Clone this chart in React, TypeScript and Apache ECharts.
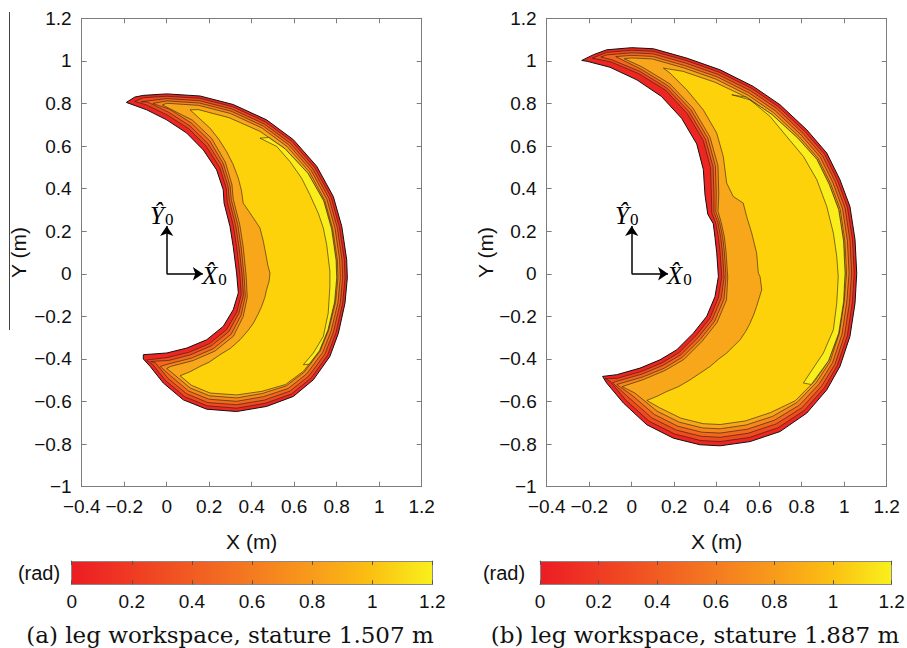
import React, { useEffect, useRef } from 'react';
import * as echarts from 'echarts';

type Pt = [number, number];

// ---------- axes / ticks ----------
const X_RANGE: Pt = [-0.4, 1.2];
const Y_RANGE: Pt = [-1, 1.2];
const TICK_STEP = 0.2;
const CBAR_RANGE: Pt = [0, 1.2];
const CBAR_TICKS = [0, 0.2, 0.4, 0.6, 0.8, 1, 1.2];

// colorbar colormap (red -> yellow)
const CBAR_STOPS = [0, 0.17, 0.33, 0.5, 0.67, 0.83, 1];
const CBAR_COLORS = ['#ec1c24', '#ef3c23', '#f15b22', '#f47b20', '#f89c1b', '#fbc012', '#f9f01c'];

// filled contour level colours (outer boundary -> interior)
const LEVEL_COLORS = ['#ee2622', '#f04a1f', '#f3681d', '#f6881b', '#f8a61a', '#fdd20b', '#f9ed1c'];

// ---------- (a) stature 1.507 m : contour polygons (X, Y in m) ----------
const A_P0: Pt[] = [
  [-0.19, 0.805], [-0.15, 0.83], [-0.11, 0.838], [0.0, 0.845], [0.157, 0.835], [0.313, 0.795],
  [0.47, 0.723], [0.596, 0.63], [0.706, 0.505], [0.784, 0.363], [0.824, 0.222], [0.847, 0.066],
  [0.85, -0.02], [0.839, -0.138], [0.808, -0.279], [0.768, -0.388], [0.69, -0.498], [0.596, -0.576],
  [0.47, -0.623], [0.329, -0.647], [0.188, -0.636], [0.078, -0.592], [-0.016, -0.513], [-0.078, -0.435],
  [-0.11, -0.4], [-0.11, -0.38], [0.0, -0.372], [0.094, -0.349], [0.188, -0.31], [0.266, -0.247],
  [0.313, -0.169], [0.337, -0.09], [0.329, 0.003], [0.313, 0.128], [0.298, 0.222], [0.27, 0.332],
  [0.266, 0.395], [0.235, 0.488], [0.172, 0.582], [0.094, 0.661], [0.0, 0.723], [-0.094, 0.77],
];
const A_P1: Pt[] = [
  [-0.15, 0.81], [-0.109, 0.827], [0.0, 0.834], [0.156, 0.824], [0.31, 0.785], [0.465, 0.713],
  [0.589, 0.622], [0.697, 0.498], [0.774, 0.358], [0.813, 0.219], [0.836, 0.065], [0.839, -0.02],
  [0.828, -0.137], [0.797, -0.275], [0.757, -0.382], [0.68, -0.489], [0.588, -0.564], [0.465, -0.608],
  [0.329, -0.631], [0.191, -0.62], [0.086, -0.578], [-0.005, -0.502], [-0.065, -0.427], [-0.095, -0.405],
  [0.006, -0.393], [0.104, -0.369], [0.201, -0.328], [0.282, -0.262], [0.33, -0.18], [0.351, -0.097],
  [0.344, -0.002], [0.329, 0.127], [0.314, 0.225], [0.285, 0.338], [0.28, 0.403], [0.249, 0.5],
  [0.185, 0.6], [0.104, 0.681], [0.006, 0.744], [-0.092, 0.792],
];
const A_P2: Pt[] = [
  [-0.12, 0.808], [0.0, 0.823], [0.154, 0.813], [0.306, 0.774], [0.459, 0.704], [0.581, 0.614],
  [0.688, 0.492], [0.764, 0.354], [0.803, 0.216], [0.825, 0.065], [0.828, -0.019], [0.817, -0.135],
  [0.785, -0.272], [0.745, -0.376], [0.669, -0.48], [0.58, -0.551], [0.46, -0.593], [0.329, -0.615],
  [0.194, -0.605], [0.094, -0.564], [0.006, -0.491], [-0.052, -0.419], [-0.075, -0.412], [0.01, -0.407],
  [0.11, -0.381], [0.209, -0.339], [0.292, -0.272], [0.339, -0.187], [0.361, -0.102], [0.355, -0.005],
  [0.34, 0.127], [0.325, 0.226], [0.295, 0.343], [0.289, 0.409], [0.258, 0.509], [0.194, 0.612],
  [0.11, 0.694], [0.009, 0.759], [-0.091, 0.807],
];
const A_P3: Pt[] = [
  [-0.065, 0.8], [0.0, 0.812], [0.153, 0.802], [0.303, 0.764], [0.454, 0.694], [0.574, 0.606],
  [0.68, 0.485], [0.754, 0.349], [0.792, 0.214], [0.814, 0.064], [0.817, -0.019], [0.806, -0.134],
  [0.774, -0.268], [0.734, -0.369], [0.659, -0.47], [0.571, -0.539], [0.456, -0.577], [0.329, -0.599],
  [0.198, -0.589], [0.102, -0.55], [0.018, -0.479], [-0.03, -0.435], [0.014, -0.422], [0.117, -0.396],
  [0.219, -0.352], [0.304, -0.283], [0.35, -0.195], [0.37, -0.106], [0.364, -0.008], [0.35, 0.126],
  [0.335, 0.228], [0.304, 0.347], [0.298, 0.414], [0.267, 0.516], [0.203, 0.624], [0.116, 0.708],
  [0.013, 0.773],
];
const A_P4: Pt[] = [
  [-0.02, 0.793], [0.0, 0.801], [0.151, 0.791], [0.3, 0.753], [0.448, 0.685], [0.567, 0.597],
  [0.671, 0.479], [0.744, 0.344], [0.781, 0.211], [0.803, 0.064], [0.806, -0.019], [0.795, -0.132],
  [0.762, -0.265], [0.722, -0.363], [0.648, -0.461], [0.563, -0.526], [0.451, -0.562], [0.329, -0.583],
  [0.201, -0.573], [0.11, -0.536], [0.029, -0.468], [0.0, -0.445], [0.018, -0.435], [0.123, -0.408],
  [0.227, -0.363], [0.314, -0.293], [0.36, -0.201], [0.379, -0.111], [0.374, -0.011], [0.36, 0.126],
  [0.344, 0.23], [0.313, 0.351], [0.307, 0.419], [0.276, 0.524], [0.212, 0.635], [0.122, 0.721],
];
const A_GOLD: Pt[] = [
  [0.11, 0.77], [0.149, 0.771], [0.294, 0.733], [0.439, 0.669], [0.557, 0.587], [0.664, 0.473],
  [0.739, 0.342], [0.776, 0.21], [0.797, 0.064], [0.8, -0.019], [0.79, -0.132], [0.759, -0.263],
  [0.719, -0.361], [0.644, -0.457], [0.559, -0.52], [0.448, -0.552], [0.329, -0.569], [0.204, -0.56],
  [0.117, -0.524], [0.063, -0.479], [0.11, -0.46], [0.157, -0.435], [0.2, -0.415], [0.251, -0.38],
  [0.3, -0.35], [0.345, -0.31], [0.38, -0.27], [0.408, -0.232], [0.43, -0.19], [0.447, -0.153],
  [0.462, -0.11], [0.47, -0.075], [0.482, -0.035], [0.486, 0.003], [0.476, 0.04], [0.47, 0.074],
  [0.462, 0.115], [0.455, 0.152], [0.439, 0.215], [0.408, 0.262], [0.376, 0.309], [0.36, 0.332],
  [0.352, 0.39], [0.337, 0.449], [0.312, 0.515], [0.282, 0.574], [0.245, 0.632], [0.204, 0.684],
];
const A_YEL: Pt[] = [
  [0.439, 0.637], [0.518, 0.598], [0.58, 0.527], [0.635, 0.449], [0.674, 0.371], [0.713, 0.285],
  [0.737, 0.215], [0.753, 0.136], [0.768, 0.011], [0.768, -0.06], [0.76, -0.185], [0.737, -0.294],
  [0.69, -0.372], [0.643, -0.427], [0.67, -0.425], [0.719, -0.361], [0.759, -0.263], [0.79, -0.132],
  [0.8, -0.019], [0.797, 0.064], [0.776, 0.21], [0.739, 0.342], [0.664, 0.473], [0.557, 0.587],
  [0.48, 0.64],
];
const A_ARROWS: Pt[][] = [[[0, 0], [0, 0.225]], [[0, 0], [0.17, 0]]];

// ---------- (b) stature 1.887 m ----------
const B_P0: Pt[] = [
  [-0.235, 1.002], [-0.18, 1.029], [-0.118, 1.052], [0.0, 1.062], [0.102, 1.057], [0.259, 1.013],
  [0.416, 0.958], [0.572, 0.88], [0.698, 0.794], [0.824, 0.676], [0.918, 0.567], [0.98, 0.442],
  [1.027, 0.316], [1.051, 0.16], [1.059, 0.003], [1.051, -0.138], [1.027, -0.294], [0.98, -0.435],
  [0.918, -0.545], [0.824, -0.654], [0.698, -0.741], [0.557, -0.788], [0.416, -0.808], [0.321, -0.803],
  [0.196, -0.772], [0.071, -0.709], [-0.039, -0.607], [-0.118, -0.513], [-0.137, -0.482], [-0.071, -0.474],
  [0.039, -0.443], [0.133, -0.404], [0.212, -0.357], [0.29, -0.279], [0.353, -0.2], [0.392, -0.107],
  [0.408, -0.013], [0.4, 0.1], [0.392, 0.17], [0.384, 0.235], [0.358, 0.28], [0.345, 0.37],
  [0.337, 0.49], [0.306, 0.61], [0.235, 0.73], [0.14, 0.833], [0.024, 0.911], [-0.102, 0.97],
  [-0.21, 0.998],
];
const B_P1: Pt[] = [
  [-0.185, 1.013], [-0.117, 1.04], [0.0, 1.05], [0.101, 1.045], [0.256, 1.002], [0.411, 0.947],
  [0.566, 0.87], [0.69, 0.785], [0.815, 0.668], [0.908, 0.561], [0.969, 0.437], [1.015, 0.313],
  [1.039, 0.159], [1.047, 0.003], [1.038, -0.136], [1.015, -0.29], [0.968, -0.429], [0.906, -0.536],
  [0.812, -0.642], [0.689, -0.723], [0.553, -0.769], [0.416, -0.788], [0.324, -0.783], [0.203, -0.753],
  [0.083, -0.693], [-0.026, -0.595], [-0.103, -0.504], [-0.125, -0.492], [-0.068, -0.491], [0.045, -0.459],
  [0.141, -0.419], [0.222, -0.371], [0.303, -0.29], [0.368, -0.209], [0.408, -0.112], [0.424, -0.015],
  [0.416, 0.101], [0.408, 0.172], [0.395, 0.239], [0.377, 0.285], [0.375, 0.372], [0.371, 0.499],
  [0.337, 0.626], [0.261, 0.753], [0.16, 0.862], [0.035, 0.939], [-0.097, 0.995],
];
const B_P2: Pt[] = [
  [-0.145, 1.018], [-0.117, 1.028], [0.0, 1.038], [0.1, 1.033], [0.253, 0.99], [0.406, 0.936],
  [0.559, 0.86], [0.683, 0.776], [0.806, 0.66], [0.898, 0.554], [0.958, 0.433], [1.004, 0.309],
  [1.027, 0.157], [1.035, 0.003], [1.025, -0.135], [1.002, -0.287], [0.957, -0.424], [0.894, -0.527],
  [0.801, -0.629], [0.68, -0.705], [0.548, -0.749], [0.416, -0.768], [0.327, -0.763], [0.21, -0.734],
  [0.095, -0.677], [-0.012, -0.583], [-0.09, -0.512], [-0.067, -0.504], [0.049, -0.471], [0.147, -0.43],
  [0.23, -0.381], [0.313, -0.299], [0.379, -0.215], [0.421, -0.115], [0.435, -0.016], [0.427, 0.101],
  [0.419, 0.173], [0.405, 0.242], [0.387, 0.288], [0.387, 0.372], [0.383, 0.502], [0.347, 0.632],
  [0.27, 0.761], [0.166, 0.872], [0.04, 0.95], [-0.095, 1.006],
];
const B_P3: Pt[] = [
  [-0.075, 1.02], [0.0, 1.026], [0.098, 1.021], [0.249, 0.978], [0.402, 0.925], [0.553, 0.849],
  [0.675, 0.766], [0.797, 0.652], [0.887, 0.548], [0.947, 0.428], [0.992, 0.306], [1.015, 0.156],
  [1.023, 0.003], [1.012, -0.133], [0.99, -0.283], [0.945, -0.418], [0.882, -0.518], [0.789, -0.617],
  [0.671, -0.688], [0.544, -0.73], [0.416, -0.748], [0.33, -0.744], [0.217, -0.716], [0.107, -0.661],
  [0.002, -0.571], [-0.07, -0.52], [0.054, -0.484], [0.154, -0.443], [0.238, -0.392], [0.323, -0.308],
  [0.391, -0.222], [0.434, -0.119], [0.444, -0.017], [0.436, 0.102], [0.428, 0.174], [0.413, 0.244],
  [0.396, 0.291], [0.398, 0.373], [0.394, 0.505], [0.358, 0.638], [0.279, 0.77], [0.173, 0.882],
  [0.044, 0.961],
];
const B_P4: Pt[] = [
  [-0.035, 1.01], [0.0, 1.014], [0.097, 1.009], [0.246, 0.967], [0.397, 0.914], [0.547, 0.839],
  [0.667, 0.757], [0.788, 0.644], [0.877, 0.542], [0.936, 0.423], [0.981, 0.303], [1.003, 0.154],
  [1.011, 0.003], [1.0, -0.132], [0.977, -0.279], [0.933, -0.413], [0.87, -0.509], [0.778, -0.604],
  [0.662, -0.67], [0.539, -0.71], [0.416, -0.728], [0.333, -0.724], [0.224, -0.697], [0.119, -0.645],
  [0.015, -0.56], [-0.045, -0.53], [0.057, -0.496], [0.159, -0.453], [0.246, -0.402], [0.332, -0.316],
  [0.402, -0.228], [0.446, -0.123], [0.452, -0.017], [0.444, 0.102], [0.436, 0.174], [0.42, 0.246],
  [0.406, 0.294], [0.41, 0.373], [0.406, 0.508], [0.368, 0.643], [0.288, 0.778], [0.18, 0.892],
  [0.048, 0.972],
];
const B_GOLD: Pt[] = [
  [0.149, 0.966], [0.241, 0.951], [0.391, 0.9], [0.54, 0.829], [0.66, 0.748], [0.781, 0.638],
  [0.871, 0.538], [0.929, 0.421], [0.974, 0.301], [0.997, 0.153], [1.004, 0.003], [0.997, -0.131],
  [0.974, -0.279], [0.926, -0.409], [0.862, -0.503], [0.77, -0.596], [0.653, -0.652], [0.535, -0.691],
  [0.416, -0.708], [0.336, -0.704], [0.231, -0.678], [0.131, -0.629], [0.071, -0.595], [0.12, -0.575],
  [0.165, -0.553], [0.22, -0.53], [0.275, -0.498], [0.32, -0.468], [0.369, -0.435], [0.41, -0.4],
  [0.447, -0.372], [0.48, -0.34], [0.51, -0.31], [0.537, -0.27], [0.557, -0.232], [0.575, -0.19],
  [0.588, -0.153], [0.612, -0.075], [0.604, -0.013], [0.596, 0.003], [0.588, 0.097], [0.565, 0.191],
  [0.541, 0.269], [0.525, 0.332], [0.478, 0.363], [0.447, 0.426], [0.431, 0.551], [0.4, 0.661],
  [0.337, 0.77], [0.259, 0.864], [0.18, 0.943],
];
const B_YEL: Pt[] = [
  [0.471, 0.841], [0.557, 0.817], [0.651, 0.739], [0.729, 0.645], [0.808, 0.551], [0.871, 0.442],
  [0.918, 0.316], [0.949, 0.191], [0.965, 0.081], [0.972, -0.013], [0.965, -0.138], [0.949, -0.263],
  [0.902, -0.372], [0.839, -0.466], [0.808, -0.513], [0.845, -0.52], [0.926, -0.409], [0.974, -0.279],
  [0.997, -0.131], [1.004, 0.003], [0.997, 0.153], [0.974, 0.301], [0.929, 0.421], [0.871, 0.538],
  [0.781, 0.638], [0.66, 0.748], [0.54, 0.829],
];
const B_ARROWS: Pt[][] = [[[0, 0], [0, 0.225]], [[0, 0], [0.171, 0]]];

const A_POLYS = [A_P0, A_P1, A_P2, A_P3, A_P4, A_GOLD, A_YEL];
const B_POLYS = [B_P0, B_P1, B_P2, B_P3, B_P4, B_GOLD, B_YEL];

// ---------- texts ----------
const CAPTION_A = '(a) leg workspace, stature 1.507 m';
const CAPTION_B = '(b) leg workspace, stature 1.887 m';
const X_NAME = 'X (m)';
const Y_NAME = 'Y (m)';
const CBAR_NAME = '(rad)';
const FRAME_Y_LABEL = '{a|\u0176}{b|0}';
const FRAME_X_LABEL = '{a|X\u0302}{b|0}';

const fmt = (v: number) => {
  const r = Math.round(v * 10) / 10;
  return r < 0 ? '\u2212' + String(-r) : String(r);
};

const FRAME = '#7d7d7d';
const SANS = 'Liberation Sans';
const SERIF = 'Liberation Serif';

function mainX(gridIndex: number, position: 'bottom' | 'top') {
  return {
    type: 'value', gridIndex, position, min: X_RANGE[0], max: X_RANGE[1], interval: TICK_STEP, z: 10,
    axisLine: { show: true, onZero: false, lineStyle: { color: FRAME, width: 1 } },
    axisTick: { show: true, inside: true, length: 5, lineStyle: { color: FRAME } },
    axisLabel: position === 'bottom'
      ? { show: true, formatter: fmt, color: '#111', fontSize: 19, fontFamily: SANS, margin: 10 }
      : { show: false },
    splitLine: { show: false },
  };
}
function mainY(gridIndex: number, position: 'left' | 'right') {
  return {
    type: 'value', gridIndex, position, min: Y_RANGE[0], max: Y_RANGE[1], interval: TICK_STEP, z: 10,
    axisLine: { show: true, onZero: false, lineStyle: { color: FRAME, width: 1 } },
    axisTick: { show: true, inside: true, length: 5, lineStyle: { color: FRAME } },
    axisLabel: position === 'left'
      ? { show: true, formatter: fmt, color: '#111', fontSize: 19, fontFamily: SANS, margin: 10 }
      : { show: false },
    splitLine: { show: false },
  };
}
function cbX(gridIndex: number, position: 'bottom' | 'top') {
  return {
    type: 'value', gridIndex, position, min: CBAR_RANGE[0], max: CBAR_RANGE[1], interval: TICK_STEP, z: 10,
    axisLine: { show: true, onZero: false, lineStyle: { color: '#8a8a8a', width: 1 } },
    axisTick: { show: true, inside: true, length: 4, lineStyle: { color: '#555' } },
    axisLabel: position === 'bottom'
      ? {
          show: true, color: '#111', fontSize: 19, fontFamily: SANS, margin: 8,
          formatter: (v: number) => {
            const i = CBAR_TICKS.findIndex((t) => Math.abs(t - v) < 1e-6);
            return i >= 0 ? fmt(CBAR_TICKS[i]) : '';
          },
        }
      : { show: false },
    splitLine: { show: false },
  };
}
function cbY(gridIndex: number, position: 'left' | 'right') {
  return {
    type: 'value', gridIndex, position, min: 0, max: 1, z: 10,
    axisLine: { show: true, onZero: false, lineStyle: { color: '#8a8a8a', width: 1 } },
    axisTick: { show: false }, axisLabel: { show: false }, splitLine: { show: false },
  };
}

function crescentSeries(polys: Pt[][], xi: number, yi: number) {
  return {
    type: 'custom', xAxisIndex: xi, yAxisIndex: yi, silent: true,
    data: polys.map((p) => p[0]),
    renderItem: (params: any, api: any) => {
      const poly = polys[params.dataIndex];
      const pts = poly.map((p) => api.coord(p));
      return {
        type: 'polygon',
        shape: { points: pts },
        style: {
          fill: LEVEL_COLORS[params.dataIndex],
          stroke: params.dataIndex === 0 ? '#111' : '#2a1d12',
          lineWidth: params.dataIndex === 0 ? 1 : 0.6,
        },
      };
    },
  };
}
function arrowSeries(arrows: Pt[][], xi: number, yi: number) {
  return {
    type: 'lines', coordinateSystem: 'cartesian2d', xAxisIndex: xi, yAxisIndex: yi, silent: true,
    polyline: false, symbol: ['none', 'arrow'], symbolSize: 10,
    lineStyle: { color: '#000', width: 1.5, opacity: 1, curveness: 0 },
    data: arrows.map((a) => ({ coords: a })),
  };
}
function cbarSeries(xi: number, yi: number) {
  return {
    type: 'custom', xAxisIndex: xi, yAxisIndex: yi, silent: true,
    data: [[CBAR_RANGE[0], 0]],
    renderItem: (_p: any, api: any) => {
      const p0 = api.coord([CBAR_RANGE[0], 1]);
      const p1 = api.coord([CBAR_RANGE[1], 0]);
      return {
        type: 'rect',
        shape: { x: p0[0], y: p0[1], width: p1[0] - p0[0], height: p1[1] - p0[1] },
        style: {
          fill: new echarts.graphic.LinearGradient(0, 0, 1, 0,
            CBAR_STOPS.map((o, i) => ({ offset: o, color: CBAR_COLORS[i] }))),
        },
      };
    },
  };
}

function frameLabel(text: string, x: number, y: number) {
  return {
    type: 'text', x, y,
    style: {
      text,
      align: 'left',
      verticalAlign: 'middle',
      rich: {
        a: { fontFamily: SERIF, fontStyle: 'italic', fontSize: 25, fill: '#000', verticalAlign: 'bottom', lineHeight: 28 },
        b: { fontFamily: SERIF, fontSize: 17, fill: '#000', verticalAlign: 'bottom', lineHeight: 23, padding: [0, 0, 0, 1] },
      },
    },
  };
}

export default function App() {
  const ref = useRef<HTMLDivElement>(null);
  useEffect(() => {
    if (!ref.current) return;
    const chart = echarts.init(ref.current, null, { renderer: 'svg' });
    const gridCommon = { containLabel: false, outerBoundsMode: 'none', show: false };
    const option: any = {
      animation: false,
      backgroundColor: '#ffffff',
      grid: [
        { ...gridCommon, left: 81.7, top: 18.3, width: 340, height: 468.4 },
        { ...gridCommon, left: 546.7, top: 18.3, width: 340, height: 468.4 },
        { ...gridCommon, left: 71.7, top: 561, width: 360.6, height: 23.3 },
        { ...gridCommon, left: 540, top: 561, width: 351.7, height: 23.3 },
      ],
      xAxis: [
        mainX(0, 'bottom'), mainX(0, 'top'), mainX(1, 'bottom'), mainX(1, 'top'),
        cbX(2, 'bottom'), cbX(2, 'top'), cbX(3, 'bottom'), cbX(3, 'top'),
      ],
      yAxis: [
        mainY(0, 'left'), mainY(0, 'right'), mainY(1, 'left'), mainY(1, 'right'),
        cbY(2, 'left'), cbY(2, 'right'), cbY(3, 'left'), cbY(3, 'right'),
      ],
      series: [
        crescentSeries(A_POLYS, 0, 0),
        arrowSeries(A_ARROWS, 0, 0),
        crescentSeries(B_POLYS, 2, 2),
        arrowSeries(B_ARROWS, 2, 2),
        cbarSeries(4, 4),
        cbarSeries(6, 6),
      ],
      graphic: [
        { type: 'line', shape: { x1: 9.5, y1: 12, x2: 9.5, y2: 330 }, style: { stroke: '#444', lineWidth: 1 } },
        { type: 'text', x: 18.5, y: 252.5, rotation: Math.PI / 2, style: { text: Y_NAME, fontFamily: SANS, fontSize: 21, fill: '#111', align: 'center', verticalAlign: 'middle' } },
        { type: 'text', x: 485, y: 252.5, rotation: Math.PI / 2, style: { text: Y_NAME, fontFamily: SANS, fontSize: 21, fill: '#111', align: 'center', verticalAlign: 'middle' } },
        { type: 'text', x: 251.7, y: 541.7, style: { text: X_NAME, fontFamily: SANS, fontSize: 21, fill: '#111', align: 'center', verticalAlign: 'middle' } },
        { type: 'text', x: 716.7, y: 541.7, style: { text: X_NAME, fontFamily: SANS, fontSize: 21, fill: '#111', align: 'center', verticalAlign: 'middle' } },
        { type: 'text', x: 39, y: 572.5, style: { text: CBAR_NAME, fontFamily: SANS, fontSize: 20, fill: '#111', align: 'center', verticalAlign: 'middle' } },
        { type: 'text', x: 504, y: 572.5, style: { text: CBAR_NAME, fontFamily: SANS, fontSize: 20, fill: '#111', align: 'center', verticalAlign: 'middle' } },
        { type: 'text', x: 230, y: 635, style: { text: CAPTION_A, fontFamily: 'DejaVu Serif', fontSize: 23, fill: '#111', align: 'center', verticalAlign: 'middle' } },
        { type: 'text', x: 695, y: 635, style: { text: CAPTION_B, fontFamily: 'DejaVu Serif', fontSize: 23, fill: '#111', align: 'center', verticalAlign: 'middle' } },
        frameLabel(FRAME_Y_LABEL, 150, 214),
        frameLabel(FRAME_X_LABEL, 202, 274),
        frameLabel(FRAME_Y_LABEL, 615, 214),
        frameLabel(FRAME_X_LABEL, 667, 274),
      ],
    };
    chart.setOption(option);
    return () => chart.dispose();
  }, []);
  return (
    <div
      ref={ref}
      style={{ position: 'fixed', left: 0, top: 0, width: 907, height: 648, background: '#fff' }}
    />
  );
}
